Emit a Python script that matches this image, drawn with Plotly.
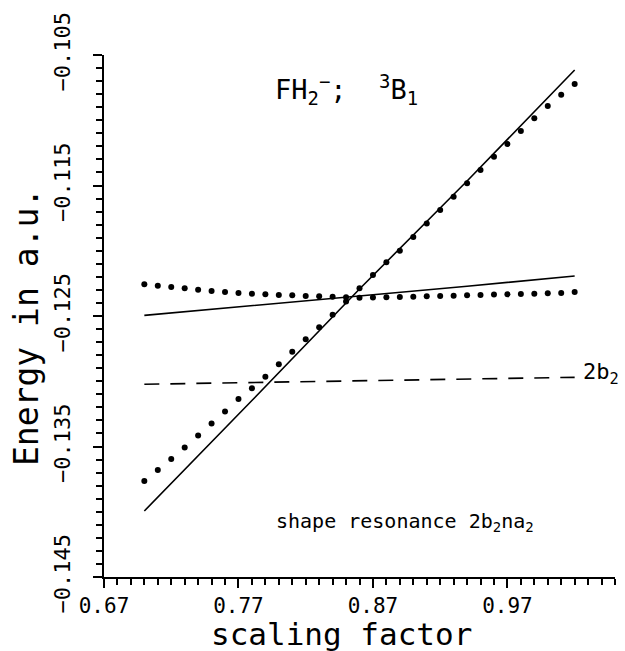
import plotly.graph_objects as go

# Scaling factors at which the dotted (computed) curves are sampled
scale = [0.70, 0.71, 0.72, 0.73, 0.74, 0.75, 0.76, 0.77, 0.78, 0.79, 0.80,
         0.81, 0.82, 0.83, 0.84, 0.85, 0.86, 0.87, 0.88, 0.89, 0.90, 0.91,
         0.92, 0.93, 0.94, 0.95, 0.96, 0.97, 0.98, 0.99, 1.00, 1.01, 1.02]

# Dotted branch that stays nearly flat (a.u.)
flat_dots = [-0.12257, -0.12268, -0.12278, -0.12288, -0.12298, -0.12308,
             -0.12316, -0.12324, -0.12329, -0.12334, -0.12339, -0.12341,
             -0.12347, -0.12349, -0.12352, -0.12357, -0.12360, -0.12358,
             -0.12357, -0.12354, -0.12352, -0.12349, -0.12347, -0.12344,
             -0.12341, -0.12339, -0.12336, -0.12334, -0.12331, -0.12329,
             -0.12326, -0.12324, -0.12316]

# Dotted branch that rises steeply with the scaling factor (a.u.)
steep_dots = [-0.13764, -0.13680, -0.13596, -0.13508, -0.13416, -0.13324,
              -0.13232, -0.13136, -0.13054, -0.12965, -0.12870, -0.12774,
              -0.12679, -0.12587, -0.12490, -0.12389, -0.12288, -0.12186,
              -0.12089, -0.12000, -0.11895, -0.11791, -0.11688, -0.11586,
              -0.11483, -0.11381, -0.11279, -0.11182, -0.11082, -0.10985,
              -0.10891, -0.10804, -0.10722]

# Solid curves
line_x = [0.70, 0.78, 0.86, 0.94, 1.02]
flat_line = [-0.12495, -0.12420, -0.12349, -0.12272, -0.12193]
steep_line = [-0.13994, -0.13148, -0.12293, -0.11466, -0.10615]

# Dashed 2b2 level
dash_x = [0.70, 0.84, 1.02]
dash_y = [-0.13023, -0.12998, -0.12970]

FONT = "DejaVu Sans Mono"

fig = go.Figure()

fig.add_trace(go.Scatter(x=line_x, y=flat_line, mode="lines",
                         line=dict(color="black", width=1.6)))
fig.add_trace(go.Scatter(x=line_x, y=steep_line, mode="lines",
                         line=dict(color="black", width=1.6)))
fig.add_trace(go.Scatter(x=dash_x, y=dash_y, mode="lines",
                         line=dict(color="black", width=1.6, dash="15px,11px")))
fig.add_trace(go.Scatter(x=scale, y=flat_dots, mode="markers",
                         marker=dict(color="black", size=6, symbol="circle")))
fig.add_trace(go.Scatter(x=scale, y=steep_dots, mode="markers",
                         marker=dict(color="black", size=6, symbol="circle")))

fig.update_layout(
    width=625, height=651,
    margin=dict(l=104, r=10, t=55, b=74),
    paper_bgcolor="white", plot_bgcolor="white",
    showlegend=False,
    font=dict(family=FONT, color="black", size=21),
)

fig.update_xaxes(
    range=[0.67, 1.05], tick0=0.67, dtick=0.1, tickformat=".2f",
    showline=True, linecolor="black", linewidth=2,
    ticks="outside", ticklen=9, tickwidth=1.5, tickcolor="black",
    minor=dict(tick0=0.67, dtick=0.01, ticks="outside", ticklen=6,
               tickwidth=1.5, tickcolor="black", showgrid=False),
    showgrid=False, zeroline=False,
    tickfont=dict(family=FONT, size=21),
)
fig.update_yaxes(
    range=[-0.145, -0.105], tick0=-0.145, dtick=0.01, tickformat=".3f",
    showline=True, linecolor="black", linewidth=2,
    ticks="outside", ticklen=9, tickwidth=1.5, tickcolor="black",
    minor=dict(tick0=-0.145, dtick=0.001, ticks="outside", ticklen=6,
               tickwidth=1.5, tickcolor="black", showgrid=False),
    showgrid=False, zeroline=False, tickangle=-90,
    ticklabelstandoff=14,
    tickfont=dict(family=FONT, size=22),
)

# Axis titles
fig.add_annotation(text="scaling factor", xref="paper", yref="paper",
                   x=(341 - 104) / 511, y=-(634 - 577) / 522,
                   xanchor="center", yanchor="middle", showarrow=False,
                   font=dict(family=FONT, size=31))
fig.add_annotation(text="Energy in a.u.", xref="paper", yref="paper",
                   x=-(104 - 26) / 511, y=(577 - 327) / 522, textangle=-90,
                   xanchor="center", yanchor="middle", showarrow=False,
                   font=dict(family=FONT, size=33))

# Labels inside the plot
fig.add_annotation(text="FH<sub>2</sub><sup>−</sup>;  <sup>3</sup>B<sub>1</sub>",
                   x=0.85, y=-0.10768, xanchor="center", yanchor="middle",
                   showarrow=False, font=dict(family=FONT, size=27))
fig.add_annotation(text="2b<sub>2</sub>", x=1.025, y=-0.1294,
                   xanchor="left", yanchor="middle", showarrow=False,
                   font=dict(family=FONT, size=22))
fig.add_annotation(text="shape resonance 2b<sub>2</sub>na<sub>2</sub>",
                   x=0.894, y=-0.14079, xanchor="center", yanchor="middle",
                   showarrow=False, font=dict(family=FONT, size=20))

fig.write_html("out.html")
